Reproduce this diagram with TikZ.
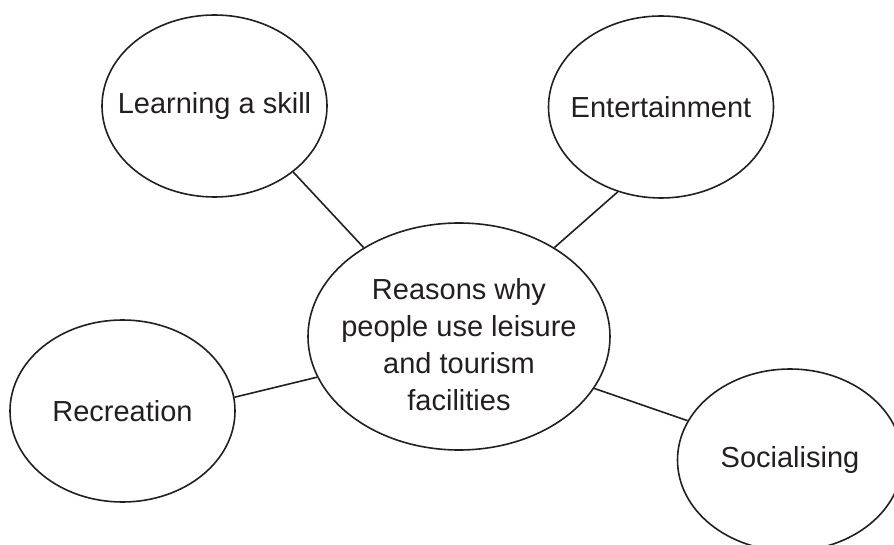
\documentclass[tikz,border=0pt]{standalone}
\usepackage{fontspec}
\setmainfont{Liberation Sans}
\usetikzlibrary{shapes.geometric}
\definecolor{ink}{HTML}{231F20}

\tikzset{
  bubble/.style={ellipse,draw=ink,line width=1.6pt,inner sep=0pt,
    minimum width=225pt,minimum height=182pt},
  words/.style={text=ink,align=center,inner sep=0pt,
    font=\fontsize{29}{37}\selectfont},
  link/.style={draw=ink,line width=1.6pt},
}

\begin{document}
\begin{tikzpicture}[x=1pt,y=-1pt]
\useasboundingbox (0,0) rectangle (894,545);
\node[bubble,minimum width=302pt,minimum height=227pt,
  label={[words,yshift=-8pt]center:{Reasons why\\people use leisure\\and tourism\\facilities}}] (reasons) at (459,336.5) {};
\node[bubble,label={[words]center:Learning a skill}] (skill) at (214.5,106) {};
\node[bubble,label={[words]center:Entertainment}] (fun) at (661,107) {};
\node[bubble,label={[words]center:Recreation}] (recreation) at (122.5,411) {};
\node[bubble,label={[words]center:Socialising}] (social) at (790,460) {};

\draw[link] (skill.320)--(reasons.137);
\draw[link] (fun.243)--(reasons.43);
\draw[link] (recreation.7)--(reasons.196);
\draw[link] (social.159)--(reasons.339);
\end{tikzpicture}
\end{document}
